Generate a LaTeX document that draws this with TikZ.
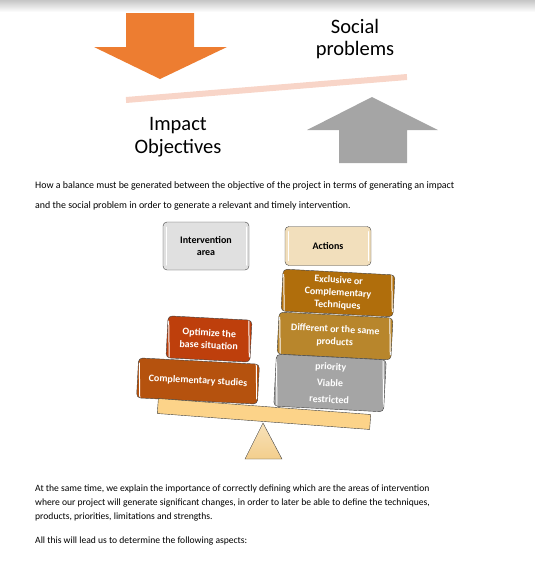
\documentclass[tikz,border=0pt]{standalone}
\usepackage{fontspec}
\setmainfont{Carlito}
\usepackage{tikz}
\usetikzlibrary{positioning}
\definecolor{ImpOrange}{HTML}{ED7D31}
\definecolor{SocGrey}{HTML}{A5A5A5}
\definecolor{BarPink}{HTML}{F8D5C8}
\definecolor{BoxLine}{HTML}{404040}
\definecolor{AreaGrey}{HTML}{E0E0E0}
\definecolor{ActBeige}{HTML}{F2DFBC}
\definecolor{TechBrown}{HTML}{B06E0C}
\definecolor{ProdGold}{HTML}{B8862C}
\definecolor{OptRed}{HTML}{BE3F0C}
\definecolor{ComplRust}{HTML}{B5520E}
\definecolor{BeamYellow}{HTML}{FCD389}
\definecolor{PivotTan}{HTML}{F3CE8C}

\begin{document}
\begin{tikzpicture}[x=1pt,y=-1pt]
    \tikzstyle{scalebox}=[draw=BoxLine,rounded corners=4pt,align=center,
      text=white,font=\fontsize{10}{12.5}\selectfont\bfseries,inner sep=2pt,
      path picture={
        \draw[white,line width=1pt,line cap=round]
          ([xshift=3pt,yshift=-5pt]path picture bounding box.north west)--
          ([xshift=3pt,yshift=5pt]path picture bounding box.south west);
        \draw[white,line width=1pt,line cap=round]
          ([xshift=-3pt,yshift=-5pt]path picture bounding box.north east)--
          ([xshift=-3pt,yshift=5pt]path picture bounding box.south east);}]
    \tikzstyle{headbox}=[scalebox,text=black]
    \tikzstyle{bigtext}=[align=center,font=\fontsize{20.5}{22.5}\selectfont]
    \tikzstyle{bodytext}=[anchor=west,inner sep=0pt,font=\fontsize{9.9}{11}\selectfont]
    \useasboundingbox (0,0) rectangle (535,566);
    \shade[top color=gray!45,bottom color=white] (0,0) rectangle (535,12);
    % balance of the objectives
    \fill[ImpOrange] (126,13)--(194,13)--(194,47)--(227,47)--(160,79)--(94,47)--(126,47)--cycle;
    \fill[SocGrey] (339,163)--(407,163)--(407,130)--(438,130)--(372,97)--(307,130)--(339,130)--cycle;
    \draw[BarPink,line width=6pt] (126,100)--(407,77);
    \node[bigtext] (social) at (355,39) {Social\\problems};
    \node[bigtext] (impact) at (178,137) {Impact\\Objectives};
    \node[bodytext] (p1a) at (35,186) {How a balance must be generated between the objective of the project in terms of generating an impact};
    \node[bodytext] (p1b) at (35,206) {and the social problem in order to generate a relevant and timely intervention.};
    % scale
    \node[headbox,fill=AreaGrey,minimum width=86pt,minimum height=48pt] (intarea) at (206,246) {Intervention\\area};
    \node[headbox,fill=ActBeige,minimum width=86pt,minimum height=39pt] (actions) at (328,246) {Actions};
    \node[scalebox,fill=TechBrown,minimum width=112pt,minimum height=42pt,rotate=-3] (techs) at (338,293) {Exclusive or\\Complementary\\Techniques};
    \node[scalebox,fill=ProdGold,minimum width=114pt,minimum height=42pt,rotate=-3] (prods) at (335,336) {Different or the same\\products};
    \node[scalebox,fill=SocGrey,minimum width=110pt,minimum height=52pt,font=\fontsize{10}{16.5}\selectfont\bfseries,rotate=-3] (prio) at (330,383) {priority\\Viable\\restricted};
    \node[scalebox,fill=OptRed,minimum width=84pt,minimum height=42pt,rotate=-3] (optim) at (209,339) {Optimize the\\base situation};
    \node[scalebox,fill=ComplRust,minimum width=121pt,minimum height=40pt,rotate=-3] (compl) at (198,381) {Complementary studies};
    \node[draw=BoxLine,fill=BeamYellow,minimum width=213pt,minimum height=15pt,inner sep=0pt,rotate=-4.3] (beam) at (264,414) {};
    \draw[BoxLine,top color=PivotTan!60,bottom color=PivotTan] (263,423)--(282,459)--(245,459)--cycle;
    % closing text
    \tikzstyle{bodytext}=[anchor=west,inner sep=0pt,font=\fontsize{9.6}{11}\selectfont]
    \node[bodytext] (p2a) at (35,489) {At the same time, we explain the importance of correctly defining which are the areas of intervention};
    \node[bodytext] (p2b) at (35,503) {where our project will generate significant changes, in order to later be able to define the techniques,};
    \node[bodytext] (p2c) at (35,517) {products, priorities, limitations and strengths.};
    \node[bodytext] (p3) at (35,541) {All this will lead us to determine the following aspects:};
  \end{tikzpicture}
\end{document}
